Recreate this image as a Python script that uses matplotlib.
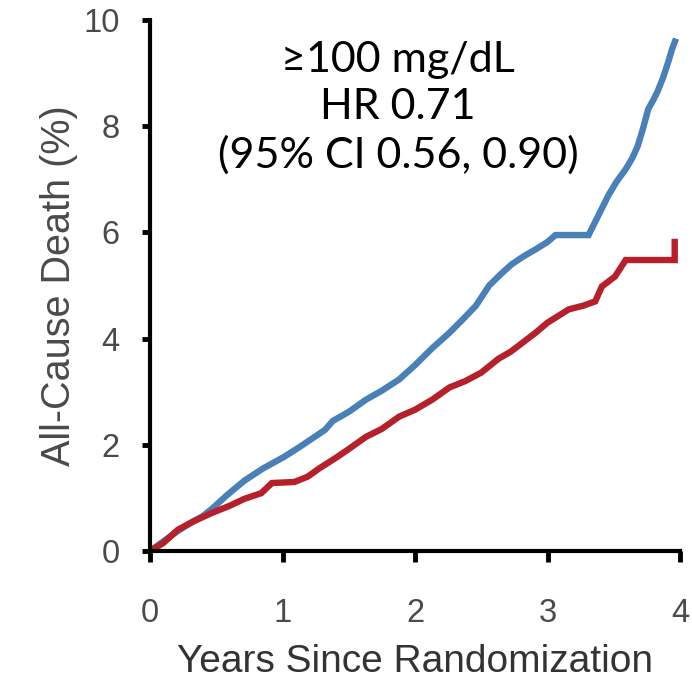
import matplotlib
matplotlib.use("Agg")
import matplotlib.pyplot as plt

# cumulative all-cause death (%)
YEARS_BLUE = [0.0, 0.10, 0.20, 0.30, 0.40, 0.47, 0.58, 0.71, 0.85, 1.01, 1.13, 1.32,
              1.38, 1.50, 1.63, 1.75, 1.88, 2.00, 2.13, 2.26, 2.36, 2.46, 2.56, 2.65,
              2.73, 2.82, 2.91, 3.00, 3.06, 3.31, 3.38, 3.46, 3.52, 3.59, 3.64, 3.68,
              3.72, 3.76, 3.80, 3.83, 3.87, 3.91, 3.94, 3.97]
DEATH_BLUE = [0.0, 0.18, 0.36, 0.52, 0.66, 0.80, 1.05, 1.32, 1.55, 1.77, 1.96, 2.28,
              2.45, 2.62, 2.85, 3.02, 3.23, 3.50, 3.82, 4.11, 4.36, 4.62, 5.00, 5.22,
              5.40, 5.55, 5.68, 5.82, 5.95, 5.95, 6.30, 6.70, 6.95, 7.19, 7.40, 7.62,
              7.95, 8.32, 8.50, 8.65, 8.90, 9.20, 9.45, 9.65]

YEARS_RED = [0.0, 0.10, 0.21, 0.33, 0.47, 0.60, 0.71, 0.84, 0.92, 1.09, 1.19, 1.28,
             1.40, 1.50, 1.63, 1.75, 1.88, 2.00, 2.13, 2.26, 2.38, 2.50, 2.63, 2.72,
             2.80, 2.91, 3.00, 3.16, 3.27, 3.36, 3.41, 3.51, 3.59, 3.96, 3.96]
DEATH_RED = [0.0, 0.15, 0.40, 0.56, 0.72, 0.85, 0.98, 1.09, 1.28, 1.30, 1.40, 1.56,
             1.75, 1.92, 2.15, 2.30, 2.53, 2.66, 2.85, 3.08, 3.20, 3.36, 3.62, 3.75,
             3.90, 4.11, 4.30, 4.55, 4.62, 4.70, 4.98, 5.17, 5.48, 5.48, 5.88]

X_TICKS = [0, 1, 2, 3, 4]
Y_TICKS = [0, 2, 4, 6, 8, 10]

ANNOTATION = "\u2265100 mg/dL\nHR 0.71\n(95% CI 0.56, 0.90)"

BLUE = "#4a80b8"
RED = "#b5202a"
TICK_GREY = "#4a4a4a"

plt.rcParams["font.family"] = ["Liberation Sans", "DejaVu Sans"]

fig = plt.figure(figsize=(6.92, 6.82), dpi=100)
ax = fig.add_axes([150 / 692, 131 / 682, 530 / 692, 531 / 682])

ax.plot(YEARS_BLUE, DEATH_BLUE, color=BLUE, lw=4.6, solid_joinstyle="miter",
        solid_capstyle="butt", clip_on=False)
ax.plot(YEARS_RED, DEATH_RED, color=RED, lw=4.6, solid_joinstyle="miter",
        solid_capstyle="butt", clip_on=False)

ax.set_xlim(0, 4)
ax.set_ylim(0, 10)
ax.set_xticks(X_TICKS)
ax.set_yticks(Y_TICKS)

for side in ["top", "right"]:
    ax.spines[side].set_visible(False)
for side in ["left", "bottom"]:
    ax.spines[side].set_linewidth(3)
    ax.spines[side].set_color("black")

ax.tick_params(axis="y", direction="out", length=6, width=3.5, pad=16,
               labelsize=23.5, labelcolor=TICK_GREY)
ax.tick_params(axis="x", direction="out", length=8, width=3.5, pad=26,
               labelsize=23.5, labelcolor=TICK_GREY)

ax.set_ylabel("All-Cause Death (%)", fontsize=28.5, color=TICK_GREY, labelpad=4)
ax.set_xlabel("Years Since Randomization", fontsize=28, color="#333333",
              labelpad=11)

fig.text(398 / 692, 1 - 108 / 682, ANNOTATION, ha="center", va="center",
         fontsize=31, family=["Lato", "DejaVu Sans"], linespacing=1.3,
         color="black")

fig.savefig("out.png", dpi=100)
